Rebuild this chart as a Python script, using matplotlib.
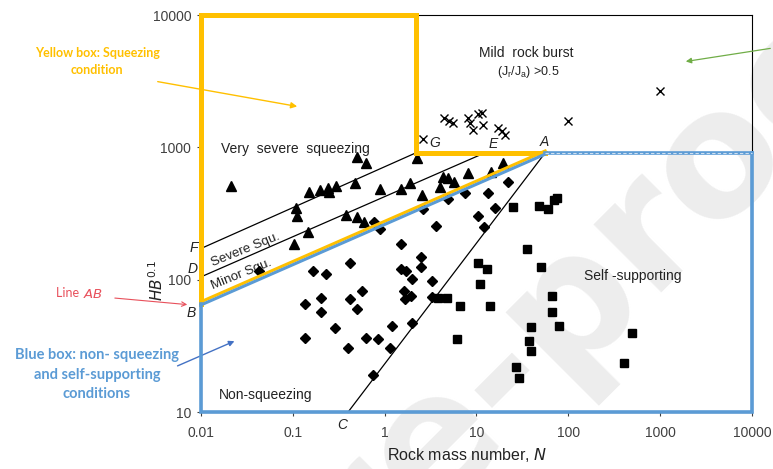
import matplotlib
matplotlib.use('Agg')
from matplotlib import pyplot as plt
from matplotlib.transforms import offset_copy

# Squeezing cases (triangles)
sq_n = [0.0212, 0.50, 0.627, 0.150, 0.198, 0.241, 0.248, 0.296, 0.477, 0.891, 1.51, 1.89, 2.25, 2.55,
        0.108, 0.111, 0.147, 0.103, 0.380, 0.50, 0.597, 4.33, 4.91, 5.70, 4.01, 8.10, 19.5, 14.4]
sq_h = [510, 845, 760, 459, 475, 492, 459, 510, 537, 484, 484, 537, 830, 436,
        348, 303, 229, 186, 308, 297, 272, 597, 586, 547, 501, 640, 760, 650]

# Rock burst cases (crosses)
rb_n = [2.62, 4.44, 5.03, 5.56, 8.10, 8.51, 10.4, 11.5, 11.8, 9.18, 17.2, 19.0, 20.5, 99.5, 1000]
rb_h = [1156, 1663, 1582, 1527, 1663, 1527, 1786, 1815, 1475, 1353, 1400, 1327, 1239, 1582, 2667]

# Non-squeezing cases (diamonds)
ns_n = [3.63, 0.891, 0.767, 1.51, 0.420, 0.166, 0.230, 0.0429, 2.49, 2.49, 1.51, 1.71, 1.99, 3.28,
        0.568, 1.63, 1.94, 1.67, 3.28, 0.203, 0.420, 0.136, 0.50, 0.203, 0.288, 1.20, 1.99, 0.136,
        0.627, 0.847, 0.40, 1.15, 0.748, 22.1, 13.4, 7.51, 4.91, 16.0, 10.4, 12.1, 2.62]
ns_h = [254, 241, 272, 186, 134, 116, 110, 116, 148, 124, 120, 116, 101, 97.6,
        82, 82, 75.2, 71.3, 73.8, 72.6, 71.3, 65.5, 60.0, 56.9, 43.1, 44.6, 47.0, 36.2,
        36.2, 35.6, 30.4, 30.4, 19.0, 547, 452, 452, 406, 348, 303, 250, 342]

# Self-supporting cases (squares)
ss_n = [25.1, 48.1, 60.3, 70.0, 75.5, 35.6, 50.6, 66.6, 66.6, 79.4, 39.3, 37.4, 39.3, 27.0, 29.1,
        495, 405, 10.4, 13.0, 10.9, 3.82, 4.78, 6.63, 14.1, 6.15]
ss_h = [354, 360, 342, 400, 414, 170, 124, 75.2, 56.9, 44.6, 43.8, 34.4, 28.8, 21.8, 18.0,
        39.5, 23.4, 134, 120, 92.7, 72.6, 72.6, 63.1, 63.1, 35.6]

# Boundary points
pt_b = (0.01, 66)
pt_a = (56, 910)
pt_c = (0.4, 10)
pt_g = (2.2, 910)
pt_f = (0.01, 172)
pt_d = (0.01, 105)
pt_e = (12.4, 910)

x_ticks = [0.01, 0.1, 1, 10, 100, 1000, 10000]
x_labels = ['0.01', '0.1', '1', '10', '100', '1000', '10000']
y_ticks = [10, 100, 1000, 10000]
y_labels = ['10', '100', '1000', '10000']

yellow = '#FFC000'
blue = '#5B9BD5'
font = 'Liberation Sans'
note_font = 'Lato'

fig = plt.figure(figsize=(7.73, 4.69), dpi=100)
ax = fig.add_axes([0.260, 0.1215, 0.7128, 0.8465])
ax.set_facecolor('none')

# watermark
fig.text(0.735, 0.356, 'Pre-proof', rotation=45, fontsize=125, fontweight='bold',
         color='#ededed', ha='center', va='center', zorder=-5, family='DejaVu Sans')

ax.set_xscale('log')
ax.set_yscale('log')
ax.set_xlim(0.01, 10000)
ax.set_ylim(10, 10000)
ax.set_xticks(x_ticks)
ax.set_xticklabels(x_labels)
ax.set_yticks(y_ticks)
ax.set_yticklabels(y_labels)
ax.minorticks_off()
ax.tick_params(direction='out', length=3, width=0.8, colors='#404040', labelsize=10)
ax.tick_params(axis='x', pad=7)
ax.tick_params(axis='y', pad=4)
for lab in ax.get_xticklabels() + ax.get_yticklabels():
    lab.set_family(font)
for s in ax.spines.values():
    s.set_linewidth(0.8)
    s.set_color('black')

# thin black boundary lines
ax.plot([pt_f[0], pt_g[0]], [pt_f[1], pt_g[1]], color='black', lw=0.9, zorder=3)
ax.plot([pt_d[0], pt_e[0]], [pt_d[1], pt_e[1]], color='black', lw=0.9, zorder=3)
ax.plot([pt_c[0], pt_a[0]], [pt_c[1], pt_a[1]], color='black', lw=0.9, zorder=3)

# data
ax.plot(sq_n, sq_h, '^', color='black', ms=7, zorder=4)
ax.plot(rb_n, rb_h, 'x', color='black', ms=5.5, mew=1.0, zorder=4)
ax.plot(ns_n, ns_h, 'D', color='black', ms=4.6, zorder=4)
ax.plot(ss_n, ss_h, 's', color='black', ms=6, zorder=4)

# yellow box
up = offset_copy(ax.transData, fig=fig, x=0, y=1.3, units='points')
dn = offset_copy(ax.transData, fig=fig, x=0, y=-1.0, units='points')
ax.plot([pt_b[0], 0.01, pt_g[0], pt_g[0], pt_a[0]], [pt_b[1], 10000, 10000, pt_g[1], pt_a[1]],
        color=yellow, lw=3.6, clip_on=False, zorder=5, solid_joinstyle='miter')
ax.plot([pt_b[0], pt_a[0]], [pt_b[1], pt_a[1]], color=yellow, lw=2.2, transform=up, clip_on=False, zorder=5)

# blue box
ax.plot([0.01, 0.01, 10000, 10000], [pt_b[1], 10, 10, pt_a[1]],
        color=blue, lw=2.6, clip_on=False, zorder=5, solid_joinstyle='miter')
ax.plot([pt_b[0], pt_a[0]], [pt_b[1], pt_a[1]], color=blue, lw=2.2, transform=dn, clip_on=False, zorder=5)
ax.plot([pt_a[0], 10000], [pt_a[1], pt_a[1]], color=blue, lw=2.6, clip_on=False, zorder=5)
ax.plot([pt_a[0], 10000], [pt_a[1], pt_a[1]], color='#cfe0f0', lw=0.8, ls=(0, (3, 2)), clip_on=False, zorder=6)

# region labels
tkw = dict(transform=ax.transAxes, family=font, color='#222222', ha='center', va='center')
ax.text(0.171, 0.6625, 'Very  severe  squeezing', fontsize=10, **tkw)
ax.text(0.080, 0.408, 'Severe Squ.', fontsize=9.5, rotation=22, **tkw)
ax.text(0.074, 0.346, 'Minor Squ.', fontsize=9.5, rotation=22, **tkw)
ax.text(0.118, 0.043, 'Non-squeezing', fontsize=10, **tkw)
ax.text(0.784, 0.343, 'Self -supporting', fontsize=10, **tkw)
ax.text(0.590, 0.904, 'Mild  rock burst', fontsize=10, **tkw)
ax.text(0.5935, 0.856, r'(J$_\mathregular{r}$/J$_\mathregular{a}$) >0.5', fontsize=9, **tkw)

lkw = dict(transform=ax.transAxes, family=font, color='#222222', ha='center', va='center',
           fontsize=10, style='italic')
ax.text(-0.013, 0.413, 'F', **lkw)
ax.text(-0.015, 0.360, 'D', **lkw)
ax.text(-0.018, 0.249, 'B', **lkw)
ax.text(0.256, -0.033, 'C', **lkw)
ax.text(0.4247, 0.678, 'G', **lkw)
ax.text(0.530, 0.675, 'E', **lkw)
ax.text(0.624, 0.680, 'A', **lkw)

# axis labels
fig.text(0.604, 0.030, 'Rock mass number, $\\mathit{N}$', fontsize=11.5, family=font,
         color='#222222', ha='center', va='center')
fig.text(0.203, 0.401, r'$\mathit{HB}^{0.1}$', fontsize=11, family=font, color='#222222',
         rotation=90, ha='center', va='center')

# side annotations
fig.text(0.1255, 0.887, 'Yellow box: Squeezing', fontsize=9, fontweight='bold', color=yellow,
         family=note_font, ha='center', va='center')
fig.text(0.1255, 0.851, 'condition', fontsize=9, fontweight='bold', color=yellow,
         family=note_font, ha='center', va='center')
ax.annotate('', xy=(0.388, 0.772), xytext=(0.2005, 0.827), xycoords='figure fraction',
            arrowprops=dict(arrowstyle='-|>', color=yellow, lw=1.0, mutation_scale=9))

fig.text(0.107, 0.375, 'Line ', fontsize=9, color='#E8505B', family=note_font, ha='right', va='center')
fig.text(0.107, 0.375, '$\\mathit{AB}$', fontsize=9.5, color='#E8505B', family=note_font,
         ha='left', va='center')
ax.annotate('', xy=(0.2458, 0.350), xytext=(0.145, 0.365), xycoords='figure fraction',
            arrowprops=dict(arrowstyle='->', color='#E8505B', lw=0.8, mutation_scale=8))

bkw = dict(fontsize=10.5, fontweight='bold', color=blue, family=note_font, ha='center', va='center')
fig.text(0.1255, 0.243, 'Blue box: non- squeezing', **bkw)
fig.text(0.1255, 0.2004, 'and self-supporting', **bkw)
fig.text(0.1255, 0.160, 'conditions', **bkw)
ax.annotate('', xy=(0.3066, 0.275), xytext=(0.2264, 0.2175), xycoords='figure fraction',
            arrowprops=dict(arrowstyle='-|>', color='#4472C4', lw=1.0, mutation_scale=8))

ax.annotate('', xy=(0.8836, 0.868), xytext=(1.0, 0.8977), xycoords='figure fraction',
            arrowprops=dict(arrowstyle='-|>', color='#70AD47', lw=0.9, mutation_scale=8))

fig.savefig('out.png', dpi=100)
